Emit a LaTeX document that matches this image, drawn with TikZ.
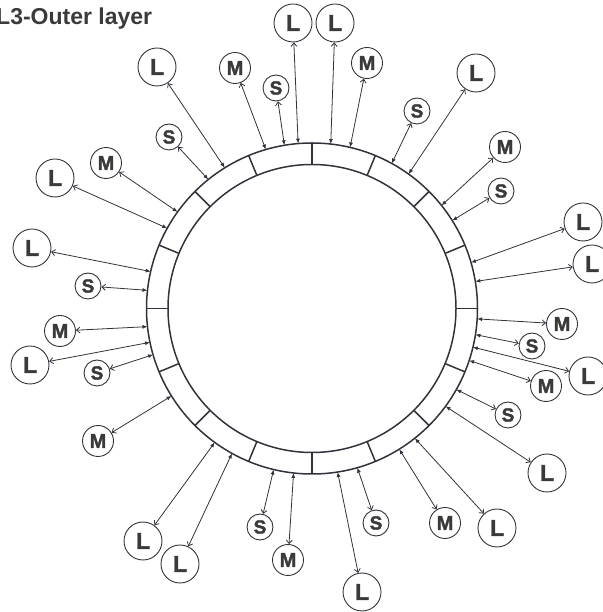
\documentclass[tikz,border=0pt]{standalone}
\usepackage{fontspec}
\setmainfont{Liberation Sans}
\newfontfamily\circfont[FakeBold=1.6]{Liberation Sans Bold}
\usetikzlibrary{arrows.meta,calc}
\definecolor{ink}{HTML}{30343A}
\definecolor{txt}{HTML}{3A3A3A}
\tikzset{
  ringline/.style={draw=ink, line width=1.5pt},
  conn/.style={draw=ink, line width=0.8pt, {Straight Barb[length=3.5pt,width=6pt]}-{Latex[length=5pt,width=4pt]}},
  bub/.style={circle, draw=ink, line width=0.9pt, inner sep=0pt, text=txt},
  bubL/.style={bub, minimum size=38pt, font=\circfont\fontsize{23}{23}\selectfont},
  bubM/.style={bub, minimum size=31pt, font=\circfont\fontsize{20}{20}\selectfont},
  bubS/.style={bub, minimum size=26pt, font=\circfont\fontsize{19}{19}\selectfont},
  title/.style={anchor=base west, inner sep=0pt, text=txt, font=\bfseries\fontsize{23}{23}\selectfont}
}
\begin{document}
\begin{tikzpicture}[x=1pt,y=1pt]
\useasboundingbox (0,0) rectangle (602,612);
\node[title] (ttl) at (-4,587) {L3-Outer layer};
\coordinate (O) at (312,303.5);
\draw[ringline] (O) circle (165.5);
\draw[ringline] (O) circle (144);
\foreach \k in {0,...,15}{
  \draw[ringline] ($(O)+(\k*22.5:144)$) -- ($(O)+(\k*22.5:165.5)$);
}
\foreach \n/\t/\x/\y/\a in {
 1/L/157/545/121.8, 2/S/169/475/128.8, 3/M/235/544/106.2, 4/S/276/524/99.6,
 5/L/293/589/94.8, 6/L/335/589/83.5, 7/M/367/549/76.7, 8/S/417/501/61.2,
 9/L/476/539/54.3, 10/M/505/465/38.5, 11/S/501/421/32.1, 12/L/583/390/16.1,
 13/L/592/348/9.4, 14/M/562/288/-3.6, 15/S/532/266/-9.1, 16/L/588/236/-13.5,
 17/M/546/226/-18.3, 18/S/508/197/-29.3, 19/L/547/139/-36.2, 20/L/497/84/-51.6,
 21/M/445/89/-58.2, 22/S/376/89/-74.1, 23/L/362/20/-81.1, 24/M/288/52/263.6,
 25/S/260/85/256.6, 26/L/180/48/241.1, 27/L/143/71/234.0, 28/M/98/171/211.9,
 29/S/97/239/196.2, 30/L/30/247/191.8, 31/M/60/281/186.3, 32/S/88/326/173.7,
 33/L/32/364/167.1, 34/L/55/434/151.0, 35/M/106/449/144.3}{
  \node[style=bub\t] (c\n) at (\x,\y) {\t};
  \coordinate (r\n) at ($(O)+(\a:165.5)$);
  \draw[conn] (c\n) -- (r\n);
}
\end{tikzpicture}
\end{document}
